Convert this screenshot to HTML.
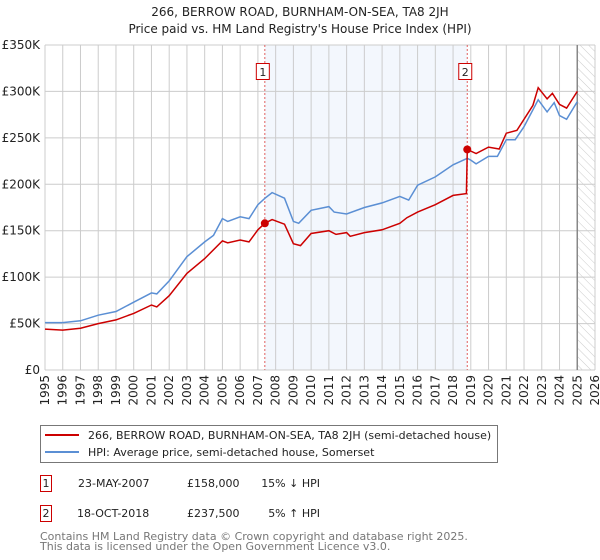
<!DOCTYPE html>
<html><head><meta charset="utf-8"><style>
body{margin:0;background:#fff;width:600px;height:560px;overflow:hidden;font-family:"DejaVu Sans","Liberation Sans",sans-serif;}
svg{position:absolute;left:0;top:0}
</style></head><body>
<svg id="chart" width="600" height="560" viewBox="0 0 600 560">
<defs><pattern id="hatch" width="6" height="6" patternUnits="userSpaceOnUse" patternTransform="rotate(-45)"><line x1="0" y1="0" x2="0" y2="6" stroke="#ccc" stroke-width="1"/></pattern></defs>
<text x="300" y="16" text-anchor="middle" font-size="12" fill="#222">266, BERROW ROAD, BURNHAM-ON-SEA, TA8 2JH</text>
<text x="300" y="33" text-anchor="middle" font-size="12" fill="#222">Price paid vs. HM Land Registry's House Price Index (HPI)</text>
<g id="grid"></g><g id="series"></g><g id="axes"></g>
<g>
<rect x="40.5" y="425.5" width="457" height="37" fill="#fff" stroke="#777"/>
<line x1="45" y1="435" x2="79" y2="435" stroke="#cc0000" stroke-width="2"/>
<text x="88" y="439" font-size="11" fill="#222">266, BERROW ROAD, BURNHAM-ON-SEA, TA8 2JH (semi-detached house)</text>
<line x1="45" y1="452" x2="79" y2="452" stroke="#5b8fd4" stroke-width="2"/>
<text x="88" y="456" font-size="11" fill="#222">HPI: Average price, semi-detached house, Somerset</text>
</g>
<g font-size="11" fill="#222">
<rect x="40.5" y="475.5" width="11" height="16" fill="none" stroke="#cc0000"/>
<text x="46" y="487" text-anchor="middle">1</text>
<text x="78" y="487">23-MAY-2007</text><text x="187" y="487">£158,000</text><text x="320" y="487" text-anchor="end">15% ↓ HPI</text>
<rect x="40.5" y="505.5" width="11" height="16" fill="none" stroke="#cc0000"/>
<text x="46" y="517" text-anchor="middle">2</text>
<text x="77" y="517">18-OCT-2018</text><text x="187" y="517">£237,500</text><text x="320" y="517" text-anchor="end">5% ↑ HPI</text>
</g>
<text x="40" y="540" font-size="11" fill="#777">Contains HM Land Registry data © Crown copyright and database right 2025.</text>
<text x="40" y="550" font-size="11" fill="#777">This data is licensed under the Open Government Licence v3.0.</text>
</svg>
<script>
const hpiYears=[1995,1996,1997,1998,1999,2000,2001,2001.3,2002,2003,2004,2004.5,2005,2005.3,2006,2006.5,2007,2007.4,2007.8,2008.5,2009,2009.3,2010,2011,2011.3,2012,2013,2014,2015,2015.5,2016,2017,2018,2018.8,2019,2019.3,2020,2020.5,2021,2021.5,2022,2022.8,2023.3,2023.7,2024,2024.4,2025];
const hpiValues=[51,51,53,59,63,73,83,82,96,122,138,145,163,160,165,163,178,185,191,185,160,158,172,176,170,168,175,180,187,183,199,208,221,228,226,222,230,230,248,248,262,291,278,288,274,270,289];
const propYears=[1995,1996,1997,1998,1999,2000,2001,2001.3,2002,2003,2004,2005,2005.3,2006,2006.5,2007,2007.39,2007.8,2008.5,2009,2009.4,2010,2011,2011.4,2012,2012.2,2013,2014,2015,2015.4,2016,2017,2018,2018.75,2018.8,2019.3,2020,2020.6,2021,2021.6,2022.5,2022.8,2023.3,2023.6,2024,2024.4,2025];
const propValues=[44,43,45,50,54,61,70,68,80,104,120,139,137,140,138,151,158,162,157,136,134,147,150,146,148,144,148,151,158,164,170,178,188,190,237.5,233,240,238,255,258,285,304,292,298,286,282,300];
const saleYears=[2007.39,2018.8];const saleValues=[158,237.5];const saleLabels=["1","2"];
const yTicks=[0,50,100,150,200,250,300,350];const yTickLabels=["£0","£50K","£100K","£150K","£200K","£250K","£300K","£350K"];
const xTicks=[1995,1996,1997,1998,1999,2000,2001,2002,2003,2004,2005,2006,2007,2008,2009,2010,2011,2012,2013,2014,2015,2016,2017,2018,2019,2020,2021,2022,2023,2024,2025,2026];
const X0=45,X1=595,Y0=370,Y1=45;
const xs=y=>X0+(y-1995)/(2026-1995)*(X1-X0);
const ys=v=>Y0-v/350*(Y0-Y1);
const NS="http://www.w3.org/2000/svg";
function mk(t,a,p){const e=document.createElementNS(NS,t);for(const k in a)e.setAttribute(k,a[k]);p.appendChild(e);return e;}
const grid=document.getElementById('grid'),ser=document.getElementById('series'),ax=document.getElementById('axes');
const sh=mk('rect',{x:xs(saleYears[0]),y:Y1,width:xs(saleYears[1])-xs(saleYears[0]),height:Y0-Y1,fill:'#eef3fc',opacity:0.7},grid);


const ht=mk('rect',{x:xs(2025),y:Y1,width:X1-xs(2025),height:Y0-Y1,fill:'url(#hatch)'},grid);


yTicks.forEach((v,i)=>{
 const l=mk('line',{x1:X0,x2:X1,y1:ys(v),y2:ys(v),stroke:'#ccc'},grid);
 
 
 const t=mk('text',{x:40,y:ys(v)+4,'text-anchor':'end','font-size':12,fill:'#222'},ax);t.textContent=yTickLabels[i];
 
 
});
xTicks.forEach(y=>{
 const l=mk('line',{x1:xs(y),x2:xs(y),y1:Y1,y2:Y0,stroke:'#ccc'},grid);
 
 
 const t=mk('text',{x:0,y:0,transform:`translate(${xs(y)+4},375) rotate(-90)`,'text-anchor':'end','font-size':12,fill:'#222'},ax);t.textContent=y;
 
 
});
const nl=mk('line',{x1:xs(2025),x2:xs(2025),y1:Y1,y2:Y0,stroke:'#888','stroke-width':1.5},grid);


saleYears.forEach((y,i)=>{
 const l=mk('line',{x1:xs(y),x2:xs(y),y1:Y1,y2:Y0,stroke:'#e06060','stroke-dasharray':'2,2'},grid);
 
 
 const b=mk('rect',{x:xs(y)-8.5,y:63.5,width:13,height:16,fill:'#fff',stroke:'#cc0000'},ax);
 
 
 const t=mk('text',{x:xs(y)-2,y:76,'text-anchor':'middle','font-size':11,fill:'#222'},ax);t.textContent=saleLabels[i];
 
 
});
const pts=(a,b)=>a.map((y,i)=>xs(y).toFixed(1)+','+ys(b[i]).toFixed(1)).join(' ');
const h=mk('polyline',{points:pts(hpiYears,hpiValues),fill:'none',stroke:'#5b8fd4','stroke-width':1.5},ser);


const p=mk('polyline',{points:pts(propYears,propValues),fill:'none',stroke:'#cc0000','stroke-width':1.5},ser);


saleYears.forEach((y,i)=>{
 const c=mk('circle',{cx:xs(y),cy:ys(saleValues[i]),r:4,fill:'#cc0000'},ser);
 
 
});
</script>
</body></html>
